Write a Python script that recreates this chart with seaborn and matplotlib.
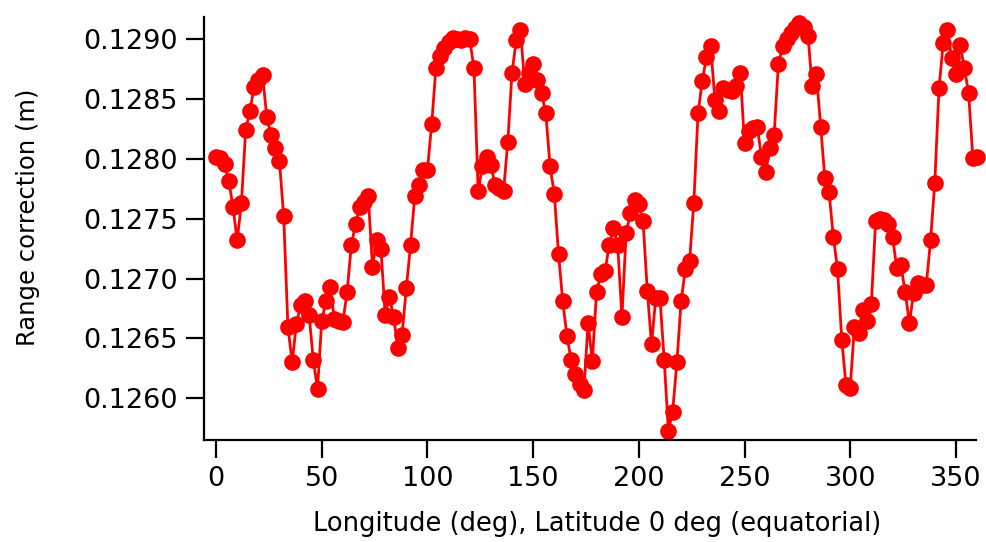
import matplotlib
matplotlib.use("Agg")
import matplotlib.pyplot as plt
import matplotlib.ticker as mticker
import seaborn as sns
import pandas as pd
import numpy as np

# longitude every 2 deg, 0..360
longitude = list(range(0, 362, 2))

range_corr = [
    0.12802, 0.12801, 0.12796, 0.12782, 0.12760, 0.12732, 0.12763, 0.12824, 0.12840, 0.12860,
    0.12866, 0.12870, 0.12835, 0.12820, 0.12809, 0.12798, 0.12752, 0.12660, 0.12630, 0.12662,
    0.12678, 0.12681, 0.12670, 0.12632, 0.12608, 0.12665, 0.12681, 0.12693, 0.12666, 0.12665,
    0.12664, 0.12689, 0.12728, 0.12746, 0.12760, 0.12764, 0.12769, 0.12710, 0.12732, 0.12725,
    0.12670, 0.12685, 0.12668, 0.12642, 0.12653, 0.12692, 0.12728, 0.12769, 0.12778, 0.12791,
    0.12791, 0.12829, 0.12876, 0.12886, 0.12893, 0.12898, 0.12901, 0.12900, 0.12899, 0.12901,
    0.12900, 0.12876, 0.12773, 0.12794, 0.12802, 0.12795, 0.12778, 0.12776, 0.12773, 0.12814,
    0.12872, 0.12899, 0.12908, 0.12863, 0.12872, 0.12879, 0.12866, 0.12855, 0.12838, 0.12794,
    0.12771, 0.12721, 0.12681, 0.12652, 0.12632, 0.12620, 0.12612, 0.12607, 0.12663, 0.12631,
    0.12689, 0.12704, 0.12706, 0.12728, 0.12742, 0.12728, 0.12668, 0.12738, 0.12755, 0.12766,
    0.12762, 0.12748, 0.12690, 0.12645, 0.12684, 0.12684, 0.12632, 0.12573, 0.12589, 0.12630,
    0.12681, 0.12708, 0.12715, 0.12763, 0.12838, 0.12865, 0.12885, 0.12894, 0.12849, 0.12840,
    0.12859, 0.12858, 0.12857, 0.12861, 0.12872, 0.12813, 0.12823, 0.12826, 0.12827, 0.12802,
    0.12789, 0.12809, 0.12820, 0.12879, 0.12894, 0.12900, 0.12905, 0.12909, 0.12914, 0.12910,
    0.12903, 0.12861, 0.12871, 0.12827, 0.12784, 0.12772, 0.12735, 0.12708, 0.12649, 0.12611,
    0.12609, 0.12660, 0.12655, 0.12674, 0.12665, 0.12679, 0.12748, 0.12750, 0.12749, 0.12746,
    0.12735, 0.12709, 0.12711, 0.12689, 0.12663, 0.12688, 0.12696, 0.12695, 0.12695, 0.12732,
    0.12780, 0.12859, 0.12897, 0.12908, 0.12884, 0.12871, 0.12895, 0.12876, 0.12855, 0.12801,
    0.12802,
]

x_ticks = [0, 50, 100, 150, 200, 250, 300, 350]
y_ticks = [0.1260, 0.1265, 0.1270, 0.1275, 0.1280, 0.1285, 0.1290]

df = pd.DataFrame({"lon": longitude, "rc": range_corr})

sns.set_style("ticks")
plt.rcParams["font.family"] = ["DejaVu Sans"]
plt.rcParams["text.color"] = "black"
plt.rcParams["axes.labelcolor"] = "black"

W, H = 987, 542
fig = plt.figure(figsize=(W / 100, H / 100), dpi=100)
# axes box in pixels: left 204, right 976, top 17, bottom 440
ax = fig.add_axes([204 / W, 1 - 440 / H, (976 - 204) / W, (440 - 17) / H])

sns.lineplot(data=df, x="lon", y="rc", ax=ax, color="#ff0000", linewidth=2,
             marker="o", markersize=12, markeredgewidth=0, clip_on=False)

ax.set_xlim(-5.7, 359.5)
ax.set_ylim(0.125652, 0.129186)
ax.set_xticks(x_ticks)
ax.set_yticks(y_ticks)
ax.yaxis.set_major_formatter(mticker.FormatStrFormatter("%.4f"))

sns.despine(ax=ax)
for s in ["left", "bottom"]:
    ax.spines[s].set_linewidth(1.6)
    ax.spines[s].set_color("black")
ax.tick_params(axis="both", direction="out", length=13, width=1.6, colors="black",
               labelsize=19.5)
ax.tick_params(axis="y", pad=6)
ax.tick_params(axis="x", pad=6)

ax.set_xlabel("Longitude (deg), Latitude 0 deg (equatorial)", fontsize=18.5)
ax.set_ylabel("Range correction (m)", fontsize=17.5)
ax.xaxis.set_label_coords(0.509, -0.168)
ax.yaxis.set_label_coords(-0.213, 0.527)

fig.savefig("out.png", dpi=100)
